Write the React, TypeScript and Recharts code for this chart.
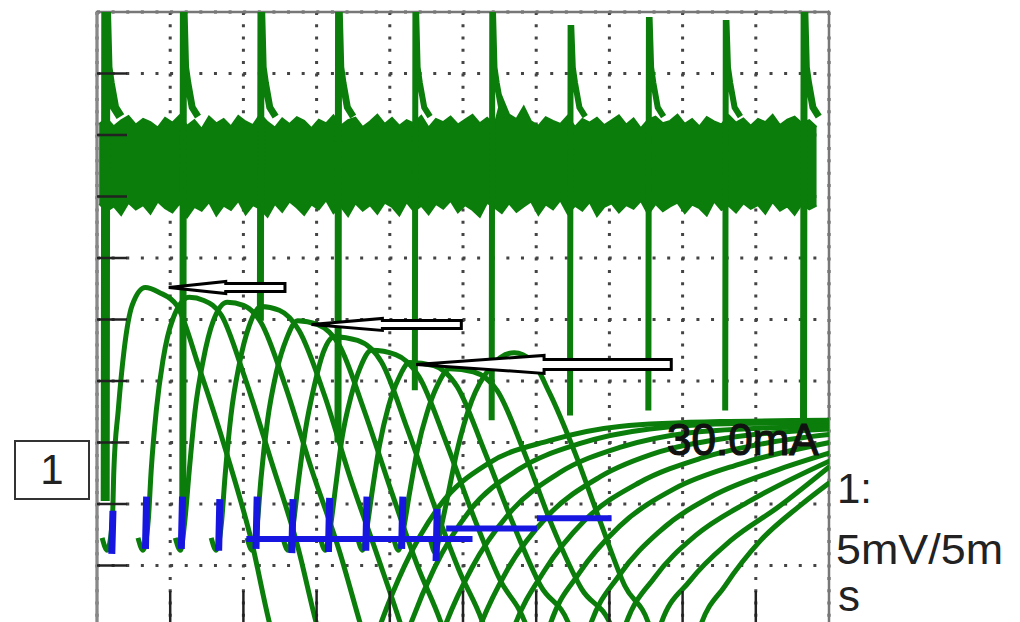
import React from 'react';
import {
  ComposedChart, Line, Area, XAxis, YAxis, CartesianGrid, ReferenceArea, ReferenceDot,
} from 'recharts';

// scope screen: 10 x 10 divisions, 5 mV/div and 5 ms/div; values below are in divisions
const GREEN = '#0b7d0b';
const BLUE = '#1616e0';
const PX_PER_DIV = 73.1;

const gridDivs = [1, 2, 3, 4, 5, 6, 7, 8, 9];

// noisy baseline of the upper channel (sample times, upper and lower envelope)
const bandTime = [
  0.03, 0.13, 0.23, 0.33, 0.43, 0.53, 0.63, 0.73, 0.83, 0.93,
  1.03, 1.13, 1.23, 1.33, 1.43, 1.53, 1.63, 1.73, 1.83, 1.93,
  2.03, 2.13, 2.23, 2.33, 2.43, 2.53, 2.63, 2.73, 2.83, 2.93,
  3.03, 3.13, 3.23, 3.33, 3.43, 3.53, 3.63, 3.73, 3.83, 3.93,
  4.03, 4.13, 4.23, 4.33, 4.43, 4.53, 4.63, 4.73, 4.83, 4.93,
  5.03, 5.13, 5.23, 5.33, 5.43, 5.53, 5.63, 5.73, 5.83, 5.93,
  6.03, 6.13, 6.23, 6.33, 6.43, 6.53, 6.63, 6.73, 6.83, 6.93,
  7.03, 7.13, 7.23, 7.33, 7.43, 7.53, 7.63, 7.73, 7.83, 7.93,
  8.03, 8.13, 8.23, 8.33, 8.43, 8.53, 8.63, 8.73, 8.83, 8.93,
  9.03, 9.13, 9.23, 9.33, 9.43, 9.53, 9.63, 9.73, 9.83,
];
const bandHigh = [
  8.18, 8.27, 8.14, 8.24, 8.31, 8.17, 8.26, 8.21, 8.12, 8.28,
  8.20, 8.32, 8.15, 8.24, 8.10, 8.30, 8.19, 8.26, 8.14, 8.31,
  8.22, 8.16, 8.34, 8.21, 8.12, 8.27, 8.18, 8.29, 8.23, 8.11,
  8.25, 8.19, 8.32, 8.15, 8.24, 8.28, 8.13, 8.22, 8.33, 8.18,
  8.28, 8.15, 8.24, 8.19, 8.31, 8.12, 8.26, 8.21, 8.30, 8.17,
  8.25, 8.33, 8.19, 8.28, 8.16, 8.62, 8.33, 8.26, 8.46, 8.22,
  8.15, 8.29, 8.23, 8.18, 8.31, 8.13, 8.26, 8.20, 8.28, 8.16,
  8.24, 8.32, 8.17, 8.27, 8.11, 8.25, 8.30, 8.19, 8.23, 8.33,
  8.18, 8.26, 8.14, 8.29, 8.22, 8.17, 8.32, 8.20, 8.27, 8.15,
  8.26, 8.21, 8.33, 8.16, 8.25, 8.30, 8.19, 8.24, 8.13,
];
const bandLow = [
  6.88, 6.76, 6.84, 6.70, 6.90, 6.79, 6.86, 6.72, 6.92, 6.81,
  6.74, 6.89, 6.66, 6.83, 6.77, 6.91, 6.69, 6.85, 6.78, 6.93,
  6.71, 6.86, 6.80, 6.67, 6.88, 6.75, 6.92, 6.82, 6.70, 6.87,
  6.79, 6.94, 6.73, 6.84, 6.68, 6.89, 6.77, 6.86, 6.72, 6.90,
  6.83, 6.69, 6.91, 6.76, 6.85, 6.71, 6.88, 6.80, 6.93, 6.74,
  6.86, 6.78, 6.67, 6.90, 6.82, 6.73, 6.89, 6.75, 6.84, 6.92,
  6.70, 6.87, 6.79, 6.94, 6.72, 6.85, 6.77, 6.91, 6.68, 6.83,
  6.89, 6.74, 6.86, 6.80, 6.93, 6.71, 6.88, 6.76, 6.84, 6.90,
  6.73, 6.87, 6.81, 6.69, 6.92, 6.78, 6.85, 6.74, 6.89, 6.80,
  6.86, 6.72, 6.91, 6.77, 6.84, 6.70, 6.88, 6.79, 6.85,
];

// stimulus artefacts on the upper channel
const spikeTime = [0.12, 1.18, 2.24, 3.3, 4.35, 5.4, 6.47, 7.54, 8.59, 9.66];
const spikeTop = [10, 10, 10, 10, 10, 10, 9.74, 9.87, 9.82, 10];
const spikeBottom = [2.05, 2.0, 4.98, 3.0, 3.85, 3.36, 3.44, 3.52, 3.52, 3.36];
const spikeWidth = [9, 7, 7, 7, 6, 6, 6, 6, 6, 7];
const spikeTailOffset = [0.03, 0.06, 0.12, 0.2];
const spikeTailLevel = [9.1, 8.85, 8.45, 8.3];

// field responses, one sweep per stimulus (time, level)
const sweep1 = [[0.07, 1.45], [0.14, 1.25], [0.21, 1.73], [0.23, 2.54], [0.29, 3.52], [0.37, 4.5], [0.48, 5.23], [0.66, 5.52], [0.85, 5.44], [1.09, 5.23], [1.4, 4.2], [1.78, 2.79], [2.11, 1.4], [2.37, 0], [2.56, -0.75], [3.65, -0.75], [3.86, 0], [4.2, 0.99], [4.68, 1.97], [5.36, 2.67], [6.18, 3.03], [7.14, 3.26], [8.51, 3.34], [10.01, 3.36]];
const sweep2 = [[0.56, 1.45], [0.63, 1.25], [0.7, 1.73], [0.74, 2.54], [0.81, 3.52], [0.9, 4.33], [1.04, 5.02], [1.26, 5.36], [1.46, 5.31], [1.7, 5.07], [2.01, 4.09], [2.38, 2.7], [2.74, 1.32], [3.01, 0], [3.2, -0.75], [4.06, -0.75], [4.27, 0], [4.61, 0.96], [5.09, 1.89], [5.77, 2.57], [6.59, 2.98], [7.55, 3.22], [8.78, 3.31], [10.01, 3.32]];
const sweep3 = [[1.07, 1.45], [1.14, 1.25], [1.2, 1.73], [1.26, 2.54], [1.34, 3.52], [1.45, 4.33], [1.59, 4.98], [1.78, 5.28], [2.0, 5.23], [2.24, 4.95], [2.57, 3.93], [2.93, 2.57], [3.31, 1.24], [3.61, 0], [3.8, -0.75], [4.54, -0.75], [4.75, 0], [5.12, 0.96], [5.64, 1.86], [6.32, 2.51], [7.14, 2.92], [8.1, 3.16], [9.19, 3.24], [10.01, 3.27]];
const sweep4 = [[1.56, 1.45], [1.63, 1.25], [1.7, 1.69], [1.75, 2.46], [1.83, 3.44], [1.94, 4.25], [2.08, 4.9], [2.24, 5.21], [2.49, 5.15], [2.76, 4.82], [3.11, 3.76], [3.45, 2.46], [3.83, 1.16], [4.16, 0], [4.35, -0.75], [5.02, -0.75], [5.23, 0], [5.61, 0.94], [6.16, 1.81], [6.87, 2.44], [7.69, 2.85], [8.65, 3.08], [10.01, 3.22]];
const sweep5 = [[2.05, 1.45], [2.12, 1.25], [2.19, 1.69], [2.24, 2.41], [2.33, 3.36], [2.45, 4.14], [2.59, 4.69], [2.74, 4.98], [3.01, 4.92], [3.31, 4.58], [3.65, 3.52], [4.02, 2.21], [4.38, 0.99], [4.72, 0], [4.91, -0.75], [5.5, -0.75], [5.7, 0], [6.11, 0.91], [6.66, 1.73], [7.41, 2.35], [8.24, 2.74], [9.19, 3.0], [10.01, 3.13]];
const sweep6 = [[2.54, 1.45], [2.61, 1.25], [2.68, 1.66], [2.75, 2.35], [2.85, 3.22], [2.97, 3.93], [3.09, 4.46], [3.24, 4.72], [3.56, 4.66], [3.89, 4.3], [4.24, 3.22], [4.61, 1.97], [4.95, 0.91], [5.29, 0], [5.47, -0.75], [6.01, -0.75], [6.18, 0], [6.59, 0.88], [7.14, 1.64], [7.89, 2.25], [8.78, 2.65], [10.01, 3.0]];
const sweep7 = [[3.05, 1.45], [3.12, 1.25], [3.19, 1.64], [3.26, 2.28], [3.35, 3.09], [3.47, 3.75], [3.6, 4.23], [3.75, 4.5], [4.08, 4.43], [4.4, 4.07], [4.77, 3.0], [5.14, 1.81], [5.5, 0.78], [5.87, 0], [6.05, -0.75], [6.55, -0.75], [6.73, 0], [7.14, 0.85], [7.69, 1.56], [8.44, 2.15], [9.26, 2.54], [10.01, 2.83]];
const sweep8 = [[3.56, 1.45], [3.63, 1.25], [3.69, 1.63], [3.76, 2.21], [3.86, 2.96], [3.98, 3.58], [4.12, 4.04], [4.27, 4.3], [4.6, 4.25], [4.92, 3.91], [5.29, 2.87], [5.68, 1.69], [6.06, 0.67], [6.46, 0], [6.62, -0.75], [7.03, -0.75], [7.21, 0], [7.62, 0.81], [8.17, 1.48], [8.92, 2.05], [10.01, 2.7]];
const sweep9 = [[4.05, 1.45], [4.12, 1.25], [4.19, 1.61], [4.27, 2.18], [4.38, 2.9], [4.51, 3.49], [4.65, 3.93], [4.82, 4.2], [5.14, 4.15], [5.47, 3.84], [5.84, 2.83], [6.22, 1.64], [6.62, 0.62], [7.03, 0], [7.2, -0.75], [7.52, -0.75], [7.69, 0], [8.1, 0.75], [8.65, 1.4], [9.33, 1.97], [10.01, 2.61]];
const sweep10 = [[4.56, 1.4], [4.62, 1.21], [4.69, 1.56], [4.79, 2.12], [4.92, 2.87], [5.12, 3.68], [5.36, 4.2], [5.7, 4.46], [5.94, 4.33], [6.18, 3.81], [6.53, 2.83], [6.87, 1.73], [7.21, 0.67], [7.55, 0], [7.69, -0.75], [8.07, -0.75], [8.24, 0], [8.58, 0.67], [9.06, 1.4], [9.6, 1.97], [10.01, 2.35]];
const sweeps = [sweep1, sweep2, sweep3, sweep4, sweep5, sweep6, sweep7, sweep8, sweep9, sweep10];

// stimulus channel (blue)
const stimTime = [0.21, 0.67, 1.16, 1.67, 2.18, 2.67, 3.17, 3.68, 4.17, 4.64];
const stimTop = [1.89, 2.12, 2.12, 2.08, 2.12, 2.08, 2.1, 2.12, 2.12, 1.92];
const stimBottom = [1.19, 1.27, 1.27, 1.24, 1.27, 1.2, 1.22, 1.24, 1.27, 1.07];
const stimLineFrom = [2.04, 4.77, 6.01];
const stimLineTo = [5.13, 6.01, 7.03];
const stimLineLevel = [1.43, 1.6, 1.77];

// hollow arrows pointing at the response peaks
const arrowTipX = [0.98, 2.93, 4.36];
const arrowTipY = [5.52, 4.92, 4.27];
const arrowHeadX = [1.76, 3.9, 6.11];
const arrowTailX = [2.57, 4.98, 7.85];
const arrowHeadHalf = [6, 6, 9];
const arrowShaftHalf = [4, 4, 5];

const bandData = bandTime.map((x, i) => ({ x, band: [bandLow[i], bandHigh[i]] }));

const spikeData = spikeTime.map((t, i) => [
  { x: t - 0.008, y: spikeBottom[i] },
  { x: t, y: spikeTop[i] },
  { x: t + 0.01, y: spikeTop[i] },
  ...spikeTailOffset.map((o, j) => ({ x: t + o, y: spikeTailLevel[j] })),
]);

const stimTickData = stimTime.flatMap((t, i) => [
  { x: t - 0.008, y: stimBottom[i] },
  { x: t + 0.008, y: stimTop[i] },
  { x: t + 0.008, y: null },
]);

const stimLineData = stimLineFrom.flatMap((f, i) => [
  { x: f, y: stimLineLevel[i] },
  { x: stimLineTo[i], y: stimLineLevel[i] },
  { x: stimLineTo[i], y: null },
]);

const arrowShape = (i: number) => (props: any) => {
  const { cx, cy } = props;
  const head = (arrowHeadX[i] - arrowTipX[i]) * PX_PER_DIV;
  const tail = (arrowTailX[i] - arrowTipX[i]) * PX_PER_DIV;
  const hh = arrowHeadHalf[i];
  const sh = arrowShaftHalf[i];
  const pts = [[0, 0], [head, -hh], [head, -sh], [tail, -sh], [tail, sh], [head, sh], [head, hh]]
    .map(([a, b]) => `${cx + a},${cy + b}`)
    .join(' ');
  return <polygon points={pts} fill="#fff" stroke="#000" strokeWidth={3} />;
};

const font = '"Liberation Sans", Arial, sans-serif';

export default function App() {
  return (
    <div style={{ position: 'fixed', left: 0, top: 0, width: 1020, height: 622, overflow: 'hidden', background: '#fff' }}>
      <ComposedChart width={1020} height={680} data={bandData} margin={{ top: 12, right: 191, bottom: 53, left: 97 }}>
        <CartesianGrid horizontal={false} stroke="#444" strokeWidth={3} strokeDasharray="3 9.28" />
        <CartesianGrid vertical={false} stroke="#444" strokeWidth={3} strokeDasharray="3 11.62" />
        <XAxis
          dataKey="x" type="number" domain={[0, 10]} ticks={gridDivs} allowDataOverflow
          height={1} mirror tickSize={36} axisLine={false}
          tickLine={{ stroke: '#222', strokeWidth: 2.5 }} tickFormatter={() => ''}
        />
        <YAxis
          type="number" domain={[0, 10]} ticks={gridDivs} allowDataOverflow
          width={1} mirror tickSize={30} axisLine={{ stroke: '#888', strokeWidth: 3 }}
          tickLine={{ stroke: '#222', strokeWidth: 2.5 }} tickFormatter={() => ''}
        />
        <ReferenceArea x1={0} x2={10} y1={0} y2={10} fill="none" fillOpacity={0} stroke="#777" strokeWidth={2.5} />
        <Area dataKey="band" type="linear" stroke={GREEN} strokeWidth={2} fill={GREEN} fillOpacity={1} isAnimationActive={false} />
        {sweeps.map((s, i) => (
          <Line
            key={`sw${i}`} data={s.map(([x, y]) => ({ x, y }))} dataKey="y" type="monotone"
            stroke={GREEN} strokeWidth={5} dot={false} isAnimationActive={false}
          />
        ))}
        {spikeData.map((d, i) => (
          <Line
            key={`sp${i}`} data={d} dataKey="y" type="linear"
            stroke={GREEN} strokeWidth={spikeWidth[i]} dot={false} isAnimationActive={false}
          />
        ))}
        <Line data={stimTickData} dataKey="y" type="linear" stroke={BLUE} strokeWidth={7} dot={false} connectNulls={false} isAnimationActive={false} />
        <Line data={stimLineData} dataKey="y" type="linear" stroke={BLUE} strokeWidth={6} dot={false} connectNulls={false} isAnimationActive={false} />
        {arrowTipX.map((x, i) => (
          <ReferenceDot key={`ar${i}`} x={x} y={arrowTipY[i]} r={1} shape={arrowShape(i)} />
        ))}
      </ComposedChart>
      <svg width={1020} height={622} style={{ position: 'absolute', left: 0, top: 0, pointerEvents: 'none' }}>
        <text x={667} y={455} fontFamily={font} fontSize={44} fill="#111" stroke="#111" strokeWidth={1.2}>30.0mA</text>
        <rect x={15} y={441} width={74} height={58} fill="#fff" stroke="#333" strokeWidth={2} />
        <text x={52} y={484} textAnchor="middle" fontFamily={font} fontSize={42} fill="#222">1</text>
        <text x={837} y={503} fontFamily={font} fontSize={42} fill="#222">1:</text>
        <text x={836} y={564} fontFamily={font} fontSize={42} fill="#222" textLength={167} lengthAdjust="spacingAndGlyphs">5mV/5m</text>
        <text x={838} y={611} fontFamily={font} fontSize={44} fill="#222">s</text>
      </svg>
    </div>
  );
}
